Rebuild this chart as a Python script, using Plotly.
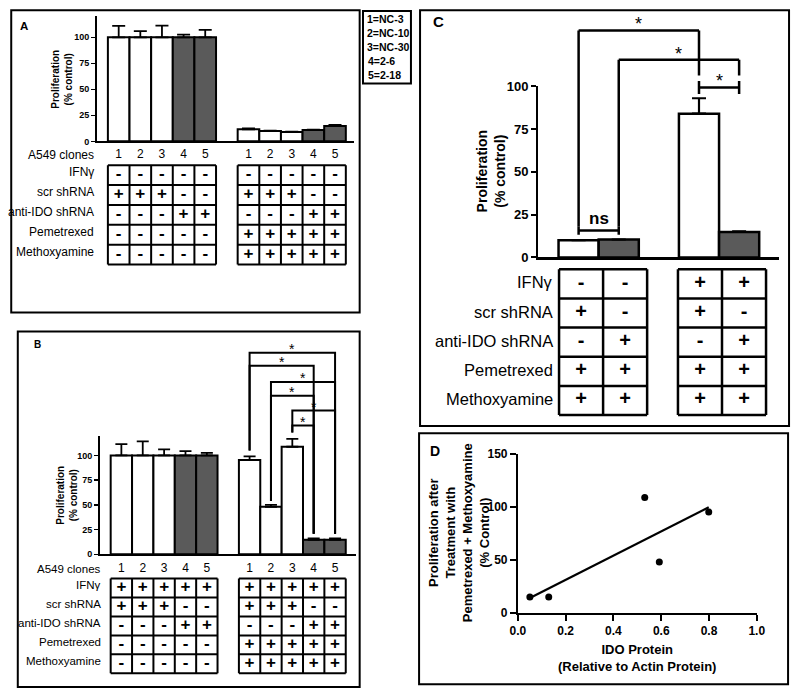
import numpy as np
import plotly.graph_objects as go

W, H = 800, 698
FONT = "Liberation Sans, Arial, Helvetica, sans-serif"
BLACK = "#000000"
GREY = "#5a5a5a"

# ---------------- data ----------------
clone_ids = ["1", "2", "3", "4", "5"]
clone_key = ["1=NC-3", "2=NC-10", "3=NC-30", "4=2-6", "5=2-18"]
clone_shrna = ["scr", "scr", "scr", "anti-IDO", "anti-IDO"]
row_labels = ["IFNγ", "scr shRNA", "anti-IDO shRNA", "Pemetrexed", "Methoxyamine"]

# Panel A (no IFNγ): untreated vs pemetrexed + methoxyamine
a_ctrl = [100, 100, 100, 100, 100]
a_ctrl_err = [11.0, 6.0, 11.3, 2.5, 7.2]
a_drug = [11.6, 10.0, 9.1, 11.0, 14.7]
a_drug_err = [0.9, 0.3, 0.2, 0.3, 1.0]
a_table_ctrl = ["-----", "+++--", "---++", "-----", "-----"]
a_table_drug = ["-----", "+++--", "---++", "+++++", "+++++"]

# Panel B (with IFNγ)
b_ctrl = [100, 100, 100, 100, 100]
b_ctrl_err = [11.5, 14.2, 6.2, 4.3, 2.6]
b_drug = [95.4, 48.0, 108.8, 14.7, 14.7]
b_drug_err = [3.6, 2.0, 7.9, 1.3, 1.3]
b_table_ctrl = ["+++++", "+++--", "---++", "-----", "-----"]
b_table_drug = ["+++++", "+++--", "---++", "+++++", "+++++"]
# significance brackets among treated clones (clone numbers), bracket level
b_sig_pairs = [(1, 5), (1, 4), (2, 5), (2, 4), (3, 5), (3, 4)]
b_sig_levels = [204.0, 190.7, 174.3, 160.4, 145.5, 130.3]
b_leg_ends = [104.9, 53.8, 123.1, 20.8, 20.8]   # lower end of bracket legs, clones 1..5

# Panel C
c_ifn = ["-", "-", "+", "+"]
c_shrna = ["scr", "anti-IDO", "scr", "anti-IDO"]
c_vals = [10.1, 10.5, 84.0, 14.9]
c_err = [0.0, 0.0, 9.0, 0.3]
c_table = ["--++", "+-+-", "-+-+", "++++", "++++"]
# (bar a, bar b, level, a-end (low, high), b-end (low, high), label)
c_brackets = [
    (0, 1, 15.8, (13.3, 18.3), (13.3, 18.3), "ns"),
    (0, 2, 132.6, (18.3, 132.6), (106.3, 132.6), "*"),
    (1, 3, 115.4, (18.3, 115.4), (106.3, 115.4), "*"),
    (2, 3, 99.3, (95.5, 103.1), (95.5, 103.1), "*"),
]

# Panel D
d_ido = [0.05, 0.129, 0.531, 0.592, 0.799]
d_prolif = [14.7, 14.7, 108.7, 47.8, 94.9]


# ---------------- helpers ----------------
def px_x(px):
    return px / W


def px_y(py):
    return 1 - py / H


def bar_trace(x, y, err, shrna, xa, ya, lw, cap, thick):
    colors = [GREY if s == "anti-IDO" else "white" for s in shrna]
    return go.Bar(
        x=x, y=y, width=1.0,
        marker=dict(color=colors, line=dict(color=BLACK, width=lw)),
        error_y=dict(type="data", symmetric=False, array=err,
                     arrayminus=[0] * len(err), color=BLACK,
                     thickness=thick, width=cap),
        xaxis=xa, yaxis=ya, showlegend=False, hoverinfo="skip")


def table_traces(groups_x, tables, xa, ya, fs, lw):
    tx, ty, tt, lx, ly = [], [], [], [], []
    for xs, tab in zip(groups_x, tables):
        for r, row in enumerate(tab):
            for c, ch in enumerate(row):
                tx.append(xs[c]); ty.append(r); tt.append(ch)
        left, right = xs[0] - 0.5, xs[-1] + 0.5
        for r in range(len(tab) + 1):
            lx += [left, right, None]; ly += [r - 0.5, r - 0.5, None]
        for c in range(len(xs) + 1):
            xv = xs[0] - 0.5 + c
            lx += [xv, xv, None]; ly += [-0.5, len(tab) - 0.5, None]
    t1 = go.Scatter(x=lx, y=ly, mode="lines", line=dict(color=BLACK, width=lw),
                    xaxis=xa, yaxis=ya, showlegend=False, hoverinfo="skip")
    t2 = go.Scatter(x=tx, y=ty, mode="text", text=tt, textposition="middle center",
                    textfont=dict(family=FONT, size=fs, color=BLACK, weight="bold"),
                    xaxis=xa, yaxis=ya, showlegend=False, hoverinfo="skip",
                    cliponaxis=False)
    return [t1, t2]


fig = go.Figure()
annotations = []
shapes = []

# ---------------- Panel A ----------------
ab_x = [g * 6 + i for g in range(2) for i in range(len(clone_ids))]
fig.add_trace(bar_trace(ab_x, a_ctrl + a_drug, a_ctrl_err + a_drug_err,
                        clone_shrna * 2, "x", "y", 2, 6.5, 1.8))
groups_ab = [[i for i in range(5)], [6 + i for i in range(5)]]
for t in table_traces(groups_ab, [a_table_ctrl, a_table_drug], "x", "y2", 17, 2):
    fig.add_trace(t)
fig.add_trace(go.Scatter(x=ab_x, y=[-1] * len(ab_x), mode="text", text=clone_ids * 2,
                         textfont=dict(family=FONT, size=12, color=BLACK),
                         xaxis="x", yaxis="y2", showlegend=False, hoverinfo="skip",
                         cliponaxis=False))
for r, lab in enumerate(["A549 clones"] + row_labels):
    annotations.append(dict(x=-1.0, xshift=-1.5, y=(r - 1) - (0.0 if r == 0 else 0.15),
                            xref="x", yref="y2", text=lab, showarrow=False,
                            xanchor="right", yanchor="middle",
                            font=dict(family=FONT, size=12, color=BLACK)))

# ---------------- Panel B ----------------
fig.add_trace(bar_trace(ab_x, b_ctrl + b_drug, b_ctrl_err + b_drug_err,
                        clone_shrna * 2, "x2", "y3", 2, 6, 1.8))
for t in table_traces(groups_ab, [b_table_ctrl, b_table_drug], "x2", "y4", 17, 2):
    fig.add_trace(t)
fig.add_trace(go.Scatter(x=ab_x, y=[-1] * len(ab_x), mode="text", text=clone_ids * 2,
                         textfont=dict(family=FONT, size=12, color=BLACK),
                         xaxis="x2", yaxis="y4", showlegend=False, hoverinfo="skip",
                         cliponaxis=False))
for r, lab in enumerate(["A549 clones"] + row_labels):
    annotations.append(dict(x=-0.84, y=(r - 1) - (0.0 if r == 0 else 0.15),
                            xref="x2", yref="y4", text=lab, showarrow=False,
                            xanchor="right", yanchor="middle",
                            font=dict(family=FONT, size=11.5, color=BLACK)))
bx, by = [], []
for (i, j), lev in zip(b_sig_pairs, b_sig_levels):
    xi, xj = 6 + i - 1, 6 + j - 1
    bx += [xi, xi, xj, xj, None]
    by += [b_leg_ends[i - 1], lev, lev, b_leg_ends[j - 1], None]
    annotations.append(dict(x=(xi + xj) / 2, y=lev, xref="x2", yref="y5", text="*",
                            showarrow=False, yanchor="middle", yshift=3.5,
                            font=dict(family=FONT, size=14, color=BLACK)))
fig.add_trace(go.Scatter(x=bx, y=by, mode="lines", line=dict(color=BLACK, width=2),
                         xaxis="x2", yaxis="y5", showlegend=False, hoverinfo="skip"))

# ---------------- Panel C ----------------
c_x = [g * 3 + i for g in range(2) for i in range(2)]
fig.add_trace(bar_trace(c_x, c_vals, c_err, c_shrna, "x3", "y6", 2.5, 7, 2.2))
# treatment table: its own column axis (cells a little wider than the bars)
c_tab_x = [[g * 2.7 + i for i in range(2)] for g in range(2)]
for t in table_traces(c_tab_x, [[r[:2] for r in c_table], [r[2:] for r in c_table]],
                      "x5", "y7", 20, 2.5):
    fig.add_trace(t)
for r, lab in enumerate(row_labels):
    annotations.append(dict(x=-0.6, y=r - 0.05, xref="x5", yref="y7", text=lab,
                            showarrow=False, xanchor="right", yanchor="middle",
                            font=dict(family=FONT, size=16.5, color=BLACK)))
cx, cy = [], []
for a, b, lev, ea, eb, lab in c_brackets:
    xa_, xb_ = c_x[a], c_x[b]
    cx += [xa_, xb_, None, xa_, xa_, None, xb_, xb_, None]
    cy += [lev, lev, None, ea[0], ea[1], None, eb[0], eb[1], None]
    if lab == "ns":
        annotations.append(dict(x=(xa_ + xb_) / 2, y=lev, xref="x3", yref="y8",
                                text="<b>ns</b>", showarrow=False, yanchor="middle",
                                yshift=12, font=dict(family=FONT, size=17, color=BLACK)))
    else:
        annotations.append(dict(x=(xa_ + xb_) / 2, y=lev, xref="x3", yref="y8",
                                text=lab, showarrow=False, yanchor="middle",
                                yshift=6, font=dict(family=FONT, size=18, color=BLACK)))
fig.add_trace(go.Scatter(x=cx, y=cy, mode="lines", line=dict(color=BLACK, width=2.5),
                         xaxis="x3", yaxis="y8", showlegend=False, hoverinfo="skip"))

# ---------------- Panel D ----------------
coef = np.polyfit(d_ido, d_prolif, 1)
fit_x = [min(d_ido), max(d_ido)]
fit_y = list(np.polyval(coef, fit_x))
fig.add_trace(go.Scatter(x=fit_x, y=fit_y, mode="lines", line=dict(color=BLACK, width=2.2),
                         xaxis="x4", yaxis="y9", showlegend=False, hoverinfo="skip"))
fig.add_trace(go.Scatter(x=d_ido, y=d_prolif, mode="markers",
                         marker=dict(color=BLACK, size=7),
                         xaxis="x4", yaxis="y9", showlegend=False, hoverinfo="skip",
                         cliponaxis=False))

# ---------------- axes ----------------
hidden = dict(visible=False, showgrid=False, zeroline=False, fixedrange=True)


def xbase(**kw):
    d = dict(showline=True, linecolor=BLACK, showgrid=False, zeroline=False,
             ticks="", showticklabels=False, fixedrange=True)
    d.update(kw)
    return d


def ybase(fs, lw, tl, tw, **kw):
    d = dict(showline=True, linecolor=BLACK, linewidth=lw, showgrid=False, zeroline=False,
             ticks="outside", ticklen=tl, tickwidth=tw, tickcolor=BLACK,
             tickfont=dict(family=FONT, size=fs, color=BLACK, weight="bold"),
             fixedrange=True)
    d.update(kw)
    return d


layout_axes = dict(
    xaxis=xbase(domain=[px_x(91), px_x(354)], range=[-1, 10.9], anchor="y", linewidth=2),
    yaxis=ybase(9, 2, 4, 1.5, domain=[px_y(137.3), px_y(9.7)], range=[0, 120],
                tickvals=[0, 25, 50, 75, 100], anchor="x"),
    yaxis2=dict(hidden, domain=[px_y(265.3), px_y(141.4)], range=[4.6, -1.5], anchor="x"),

    xaxis2=xbase(domain=[px_x(94), px_x(356)], range=[-1, 11], anchor="y3", linewidth=2),
    yaxis3=ybase(9, 2, 4, 1.5, domain=[px_y(559.3), px_y(438.1)], range=[0, 120],
                 tickvals=[0, 25, 50, 75, 100], anchor="x2"),
    yaxis4=dict(hidden, domain=[px_y(682.9), px_y(564.6)], range=[4.6, -1.5], anchor="x2"),
    yaxis5=dict(hidden, domain=[px_y(559.3), px_y(340)], range=[0, 217.1], anchor="x2"),

    xaxis3=xbase(domain=[px_x(542), px_x(788)], range=[-1, 5], anchor="y6", linewidth=2.5),
    yaxis6=ybase(13, 2.5, 5, 2, domain=[px_y(256), px_y(81)], range=[0, 100],
                 tickvals=[0, 25, 50, 75, 100], anchor="x3"),
    xaxis5=dict(hidden, domain=[px_x(542), px_x(788)], range=[-0.967, 4.5], anchor="y7"),
    yaxis7=dict(hidden, domain=[px_y(420), px_y(265)], range=[4.6, -0.6], anchor="x5"),
    yaxis8=dict(hidden, domain=[px_y(256), px_y(8)], range=[0, 141.7], anchor="x3"),

    xaxis4=ybase(12, 2, 6, 2, domain=[px_x(521), px_x(765)], range=[0, 1.0],
                 tickvals=[0, 0.2, 0.4, 0.6, 0.8, 1.0], tickformat=".1f", anchor="y9"),
    yaxis9=ybase(12, 2, 6, 2, domain=[px_y(619), px_y(456.5)], range=[0, 150],
                 tickvals=[0, 50, 100, 150], anchor="x4"),
)

# ---------------- titles / labels ----------------
def paper_text(px, py, text, size, angle=0, xanchor="center", yanchor="middle"):
    return dict(x=px_x(px), y=px_y(py), xref="paper", yref="paper", text=text,
                showarrow=False, textangle=angle, xanchor=xanchor, yanchor=yanchor,
                font=dict(family=FONT, size=size, color=BLACK))


annotations += [
    paper_text(55, 73.5, "<b>Proliferation<br>(% control)</b>", 10, -90),
    paper_text(60, 498.7, "<b>Proliferation<br>(% control)</b>", 10, -90),
    paper_text(493, 168.5, "<b>Proliferation<br>(% control)</b>", 14, -90),
    paper_text(461.5, 537, "<b>Proliferation after<br>Treatment with<br>Pemetrexed + Methoxyamine<br>(% Control)</b>", 13, -90),
    paper_text(643, 665, "<b>IDO Protein<br>(Relative to Actin Protein)</b>", 13),
    paper_text(16, 19.5, "<b>A</b>", 11.5),
    paper_text(29.7, 345, "<b>B</b>", 10),
    paper_text(440, 15.3, "<b>C</b>", 15),
    paper_text(436.7, 453.3, "<b>D</b>", 14),
]
for k, (lab, yy) in enumerate(zip(clone_key, [12.7, 26.7, 40.5, 55, 69.5])):
    annotations.append(paper_text(364.5 + (1.5 if k >= 3 else 0), yy, "<b>" + lab + "</b>",
                                  10.5, xanchor="left"))

# panel frames
for (x0, y0, x1, y1) in [(3.3, 3.3, 359.3, 312.3), (362.7, 4, 411.7, 78.3),
                         (10, 331.7, 359.3, 695), (421, 3.3, 798, 428.3),
                         (420, 435.7, 797, 692)]:
    shapes.append(dict(type="rect", xref="paper", yref="paper",
                       x0=px_x(x0), x1=px_x(x1), y0=px_y(y0), y1=px_y(y1),
                       line=dict(color=BLACK, width=2), fillcolor="rgba(0,0,0,0)"))

fig.update_layout(
    width=W, height=H, autosize=False,
    margin=dict(l=0, r=0, t=0, b=0, pad=0),
    paper_bgcolor="white", plot_bgcolor="rgba(0,0,0,0)",
    showlegend=False, font=dict(family=FONT, color=BLACK),
    annotations=annotations, shapes=shapes, **layout_axes)

fig.write_html(
    "out.html",
    config={"displayModeBar": False, "staticPlot": True},
    post_script=(
        "document.documentElement.style.margin='0';"
        "document.documentElement.style.overflow='hidden';"
        "document.body.style.margin='0';document.body.style.padding='0';"
        "document.body.style.overflow='hidden';"
        "var gd=document.getElementById('{plot_id}');"
        "gd.style.position='fixed';gd.style.left='0px';gd.style.top='0px';"
    ),
)
